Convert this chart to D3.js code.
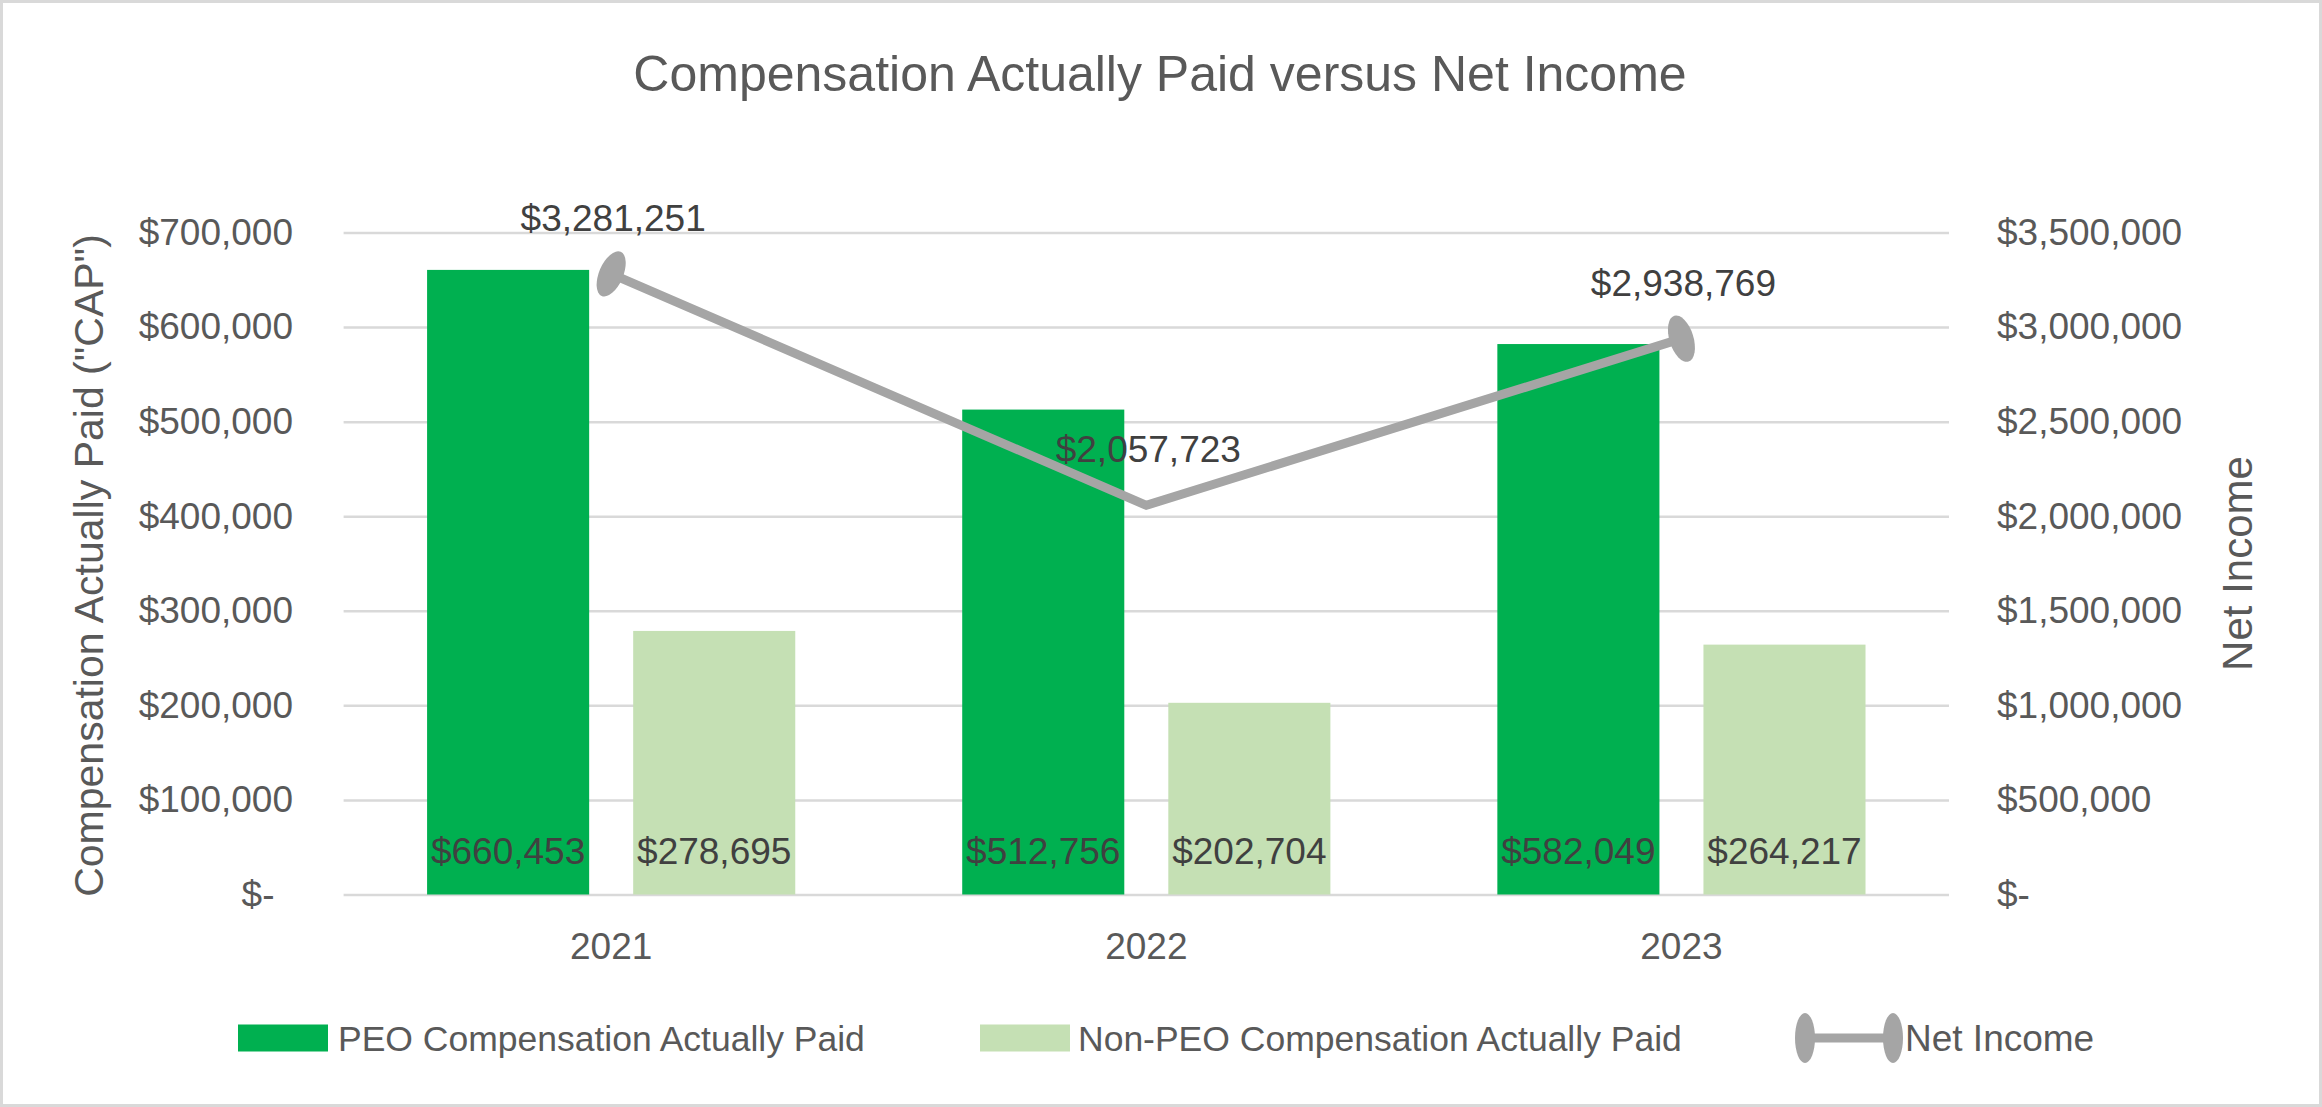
<!DOCTYPE html>
<html>
<head>
<meta charset="utf-8">
<script src="https://cdn.jsdelivr.net/npm/d3@7"></script>
<style>
  html, body { margin: 0; padding: 0; background: #fff; }
  svg { display: block; }
  text { font-family: "Liberation Sans", Arial, sans-serif; }
</style>
</head>
<body>
<svg id="chart" width="2322" height="1107"></svg>
<script>
// ---- data ----
const years = ["2021", "2022", "2023"];
const peoCAP = [660453, 512756, 582049];
const nonPeoCAP = [278695, 202704, 264217];
const netIncome = [3281251, 2057723, 2938769];
const leftTicks = [0, 100000, 200000, 300000, 400000, 500000, 600000, 700000];
const rightTicks = [0, 500000, 1000000, 1500000, 2000000, 2500000, 3000000, 3500000];
const seriesNames = ["PEO Compensation Actually Paid", "Non-PEO Compensation Actually Paid", "Net Income"];
const chartTitle = "Compensation Actually Paid versus Net Income";
const leftTitle = "Compensation Actually Paid (\"CAP\")";
const rightTitle = "Net Income";

// ---- layout ----
const W = 2322, H = 1107;
const X0 = 343.6, X1 = 1949, YT = 232.5, YB = 894.5;
const C = { peo: "#00B050", non: "#C5E0B4", line: "#A5A5A5", grid: "#D9D9D9", text: "#595959", label: "#404040" };

const svg = d3.select("#chart");
svg.append("rect").attr("x", 0).attr("y", 0).attr("width", W).attr("height", H).attr("fill", "#fff");
svg.append("rect").attr("x", 1.5).attr("y", 1.5).attr("width", W - 3).attr("height", H - 3)
  .attr("fill", "none").attr("stroke", C.grid).attr("stroke-width", 3);

const x = d3.scaleBand().domain(years).range([X0, X1]).paddingInner(0.312).paddingOuter(0.156);
const keys = ["peo", "non"];
const xs = d3.scaleBand().domain(keys).range([0, x.bandwidth()]).paddingInner(0.2136).paddingOuter(0);
const yL = d3.scaleLinear().domain([0, 700000]).range([YB, YT]);
const yR = d3.scaleLinear().domain([0, 3500000]).range([YB, YT]);

const money = d3.format("$,");
const fmtL = v => v === 0 ? "$-\u2002" : money(v);
const fmtR = v => v === 0 ? "$-" : money(v);

// gridlines
const grid = svg.append("g").attr("transform", `translate(${X0},0)`)
  .call(d3.axisLeft(yL).tickValues(leftTicks).tickSize(-(X1 - X0)).tickFormat(""));
grid.select(".domain").remove();
grid.selectAll("line").attr("stroke", C.grid).attr("stroke-width", 2.5);

// left axis labels
const gL = svg.append("g").attr("transform", `translate(${X0},0)`)
  .call(d3.axisLeft(yL).tickValues(leftTicks).tickSize(0).tickPadding(50.6).tickFormat(fmtL));
gL.select(".domain").remove();
gL.selectAll("text").attr("fill", C.text).style("font-size", "37px").style("font-family", "'Liberation Sans', Arial, sans-serif").style("white-space", "pre");

// right axis labels
const gR = svg.append("g").attr("transform", `translate(${X1},0)`)
  .call(d3.axisRight(yR).tickValues(rightTicks).tickSize(0).tickPadding(48).tickFormat(fmtR));
gR.select(".domain").remove();
gR.selectAll("text").attr("fill", C.text).style("font-size", "37px").style("font-family", "'Liberation Sans', Arial, sans-serif");

// bottom axis labels
const gB = svg.append("g").attr("transform", `translate(0,${YB})`)
  .call(d3.axisBottom(x).tickSize(0).tickPadding(38.5));
gB.select(".domain").remove();
gB.selectAll("text").attr("fill", C.text).style("font-size", "37px").style("font-family", "'Liberation Sans', Arial, sans-serif");

// bars
const rows = years.map((y, i) => ({ year: y, peo: peoCAP[i], non: nonPeoCAP[i] }));
const groups = svg.append("g").selectAll("g").data(rows).join("g")
  .attr("transform", d => `translate(${x(d.year)},0)`);
groups.selectAll("rect").data(d => keys.map(k => ({ k, v: d[k] }))).join("rect")
  .attr("x", d => xs(d.k)).attr("width", xs.bandwidth())
  .attr("y", d => yL(d.v)).attr("height", d => yL(0) - yL(d.v))
  .attr("fill", d => C[d.k]);

// line
const pts = years.map((y, i) => [x(y) + x.bandwidth() / 2, yR(netIncome[i])]);
svg.append("path").attr("d", d3.line()(pts)).attr("fill", "none")
  .attr("stroke", C.line).attr("stroke-width", 9).attr("stroke-linejoin", "miter");

// oval end caps
function endOval(p, q) {
  const ang = Math.atan2(q[1] - p[1], q[0] - p[0]) * 180 / Math.PI;
  svg.append("ellipse").attr("cx", p[0]).attr("cy", p[1]).attr("rx", 12).attr("ry", 24)
    .attr("transform", `rotate(${ang},${p[0]},${p[1]})`).attr("fill", C.line);
}
endOval(pts[0], pts[1]);
endOval(pts[pts.length - 1], pts[pts.length - 2]);

// bar data labels
groups.selectAll("text.bl").data(d => keys.map(k => ({ k, v: d[k] }))).join("text")
  .attr("class", "bl")
  .attr("x", d => xs(d.k) + xs.bandwidth() / 2).attr("y", YB - 31)
  .attr("text-anchor", "middle").attr("fill", C.label).style("font-size", "37px")
  .text(d => money(d.v));

// line data labels
svg.append("g").selectAll("text").data(netIncome).join("text")
  .attr("x", (d, i) => pts[i][0] + 2).attr("y", (d, i) => pts[i][1] - 43)
  .attr("text-anchor", "middle").attr("fill", C.label).style("font-size", "37px")
  .text(d => money(d));

// titles
svg.append("text").attr("x", 1160).attr("y", 91).attr("text-anchor", "middle")
  .attr("fill", C.text).style("font-size", "50px").text(chartTitle);
svg.append("text").attr("transform", `translate(103,${(YT + YB) / 2 + 2}) rotate(-90)`)
  .attr("text-anchor", "middle").attr("fill", C.text).style("font-size", "41px").text(leftTitle);
svg.append("text").attr("transform", `translate(2252,${(YT + YB) / 2}) rotate(-90)`)
  .attr("text-anchor", "middle").attr("fill", C.text).style("font-size", "42px").text(rightTitle);

// legend
const legY = 1038;
const leg = svg.append("g");
const sw = [{ x: 238, c: C.peo, t: seriesNames[0], tx: 338 }, { x: 980, c: C.non, t: seriesNames[1], tx: 1078 }];
sw.forEach(s => {
  leg.append("rect").attr("x", s.x).attr("y", legY - 13.5).attr("width", 90).attr("height", 27).attr("fill", s.c);
  leg.append("text").attr("x", s.tx).attr("y", legY + 12.5).attr("fill", C.text).style("font-size", "35.5px").text(s.t);
});
leg.append("line").attr("x1", 1805).attr("x2", 1893).attr("y1", legY).attr("y2", legY)
  .attr("stroke", C.line).attr("stroke-width", 9);
[1805, 1893].forEach(cx => leg.append("ellipse").attr("cx", cx).attr("cy", legY).attr("rx", 10).attr("ry", 25).attr("fill", C.line));
leg.append("text").attr("x", 1905).attr("y", legY + 12.5).attr("fill", C.text).style("font-size", "37px").text(seriesNames[2]);
</script>
</body>
</html>
